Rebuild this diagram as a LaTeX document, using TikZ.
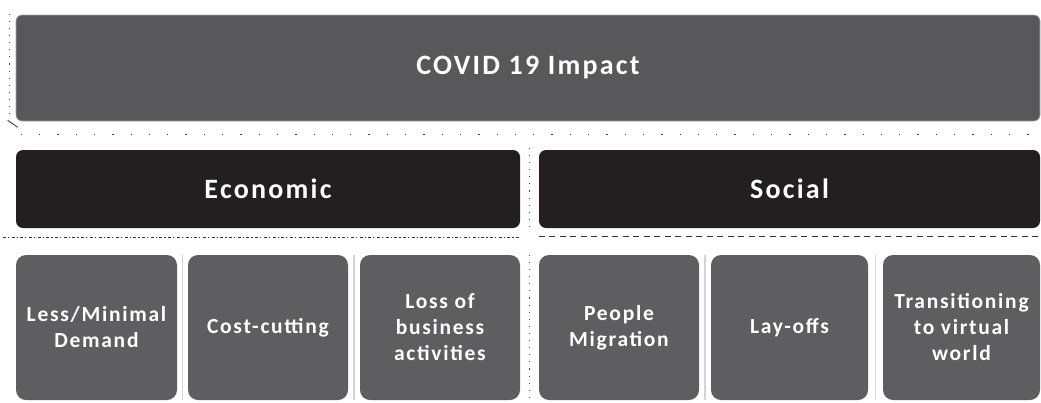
\documentclass[tikz,border=0pt]{standalone}
\usepackage{fontspec}
\setmainfont{Carlito}
\newfontfamily\boxfont[LetterSpace=8]{Carlito}
\usetikzlibrary{calc}
\definecolor{topgray}{HTML}{58585A}
\definecolor{catblack}{HTML}{231F20}
\definecolor{leafgray}{HTML}{5E5E60}
\definecolor{sepgray}{HTML}{D4D4D4}
\begin{document}
\begin{tikzpicture}[x=1pt,y=-1pt,
  boxbase/.style={text=white, align=center, inner sep=0pt},
  headbox/.style={boxbase, fill=topgray, draw=gray!70, line width=0.6pt, rounded corners=6pt,
    font=\boxfont\fontsize{28}{31}\selectfont\bfseries},
  catbox/.style={boxbase, fill=catblack, rounded corners=7pt,
    font=\boxfont\fontsize{28}{31}\selectfont\bfseries},
  leafbox/.style={boxbase, fill=leafgray, rounded corners=10pt,
    minimum width=160pt, minimum height=145pt,
    font=\boxfont\fontsize{21.5}{26}\selectfont\bfseries},
  dotsep/.style={black!75, line width=1.3pt, dash pattern=on 1.3pt off 17pt},
  finedots/.style={black!70, line width=1.1pt, dash pattern=on 1.1pt off 6pt},
  fancysep/.style={black!80, line width=1.3pt, dash pattern=on 3pt off 2pt on 1.2pt off 2.5pt},
  dashsep/.style={black!80, line width=1.3pt, dash pattern=on 6pt off 4.5pt},
  lightsep/.style={sepgray, line width=1.2pt}
]
\useasboundingbox (0,0) rectangle (1041,402);

% title bar
\node[headbox, minimum width=1024pt, minimum height=106pt] (impact) at (528,68) {COVID 19 Impact};

% category bars
\node[catbox, minimum width=504pt, minimum height=78pt] (econ) at (268,189) {Economic};
\node[catbox, minimum width=501pt, minimum height=78pt] (soc) at (789.5,189) {Social};

% individual effects
\node[leafbox, minimum width=161pt] (m1) at (96.5,327.5) {Less/Minimal\\Demand};
\node[leafbox] (m2) at (268,327.5) {Cost-cutting};
\node[leafbox] (m3) at (440,327.5) {Loss of\\business\\activities};
\node[leafbox] (m4) at (619,327.5) {People\\Migration};
\node[leafbox, minimum width=157pt] (m5) at (789.5,327.5) {Lay-offs};
\node[leafbox, minimum width=157pt] (m6) at (961.5,327.5) {Transitioning\\to virtual\\world};

% separators around the title bar
\draw[finedots] ($(impact.north west)+(-6,-1)$) -- ($(impact.south west)+(-6,-2)$);
\draw[black!70, line width=1pt] ($(impact.south west)+(-8,-1)$) -- ($(impact.south west)+(2,6)$);
\draw[dotsep] ($(impact.south west)+(5,13)$) -- ($(impact.south east)+(1,13)$);

% separators between the category bars
\draw[finedots] ($(econ.north east)!0.5!(soc.north west)+(0,-2)$) -- ($(econ.south east)!0.5!(soc.south west)+(0,4)$);
\draw[fancysep] ($(econ.south west)+(-13,9)$) -- ($(econ.south east)+(0,9)$);
\draw[dashsep] ($(soc.south west)+(0,8)$) -- ($(soc.south east)+(1,8)$);

% separators between the effect boxes
\draw[lightsep] ($(m1.north east)!0.5!(m2.north west)$) -- ($(m1.south east)!0.5!(m2.south west)$);
\draw[lightsep] ($(m2.north east)!0.5!(m3.north west)$) -- ($(m2.south east)!0.5!(m3.south west)$);
\draw[lightsep] ($(m4.north east)!0.5!(m5.north west)$) -- ($(m4.south east)!0.5!(m5.south west)$);
\draw[lightsep] ($(m5.north east)!0.5!(m6.north west)$) -- ($(m5.south east)!0.5!(m6.south west)$);
\draw[finedots] ($(m3.north east)!0.5!(m4.north west)$) -- ($(m3.south east)!0.5!(m4.south west)$);
\end{tikzpicture}
\end{document}
